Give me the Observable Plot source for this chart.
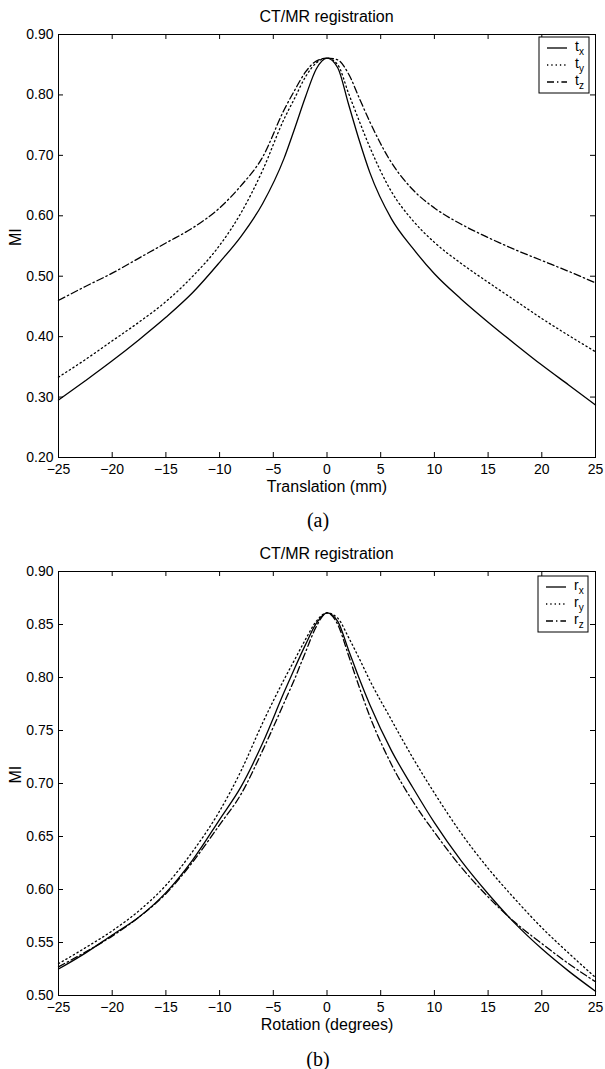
<!DOCTYPE html>
<html>
<head>
<meta charset="utf-8">
<script src="https://cdn.jsdelivr.net/npm/d3@7"></script>
<script src="https://cdn.jsdelivr.net/npm/@observablehq/plot@0.6"></script>
<style>
  body { margin: 0; background: #fff; width: 605px; font-family: "Liberation Sans", Arial, Helvetica, sans-serif; color: #000; }
  .title { height: 33px; line-height: 33px; font-size: 16px; text-align: center; padding-left: 58px; width: 537px; white-space: nowrap; }
  .caption { font-family: "Liberation Serif", "Times New Roman", serif; font-size: 20px; text-align: center; padding-left: 31px; width: 574px; }
  .wrap { position: relative; width: 605px; }
  .wrap svg { display: block; }
  .legend { position: absolute; }
</style>
</head>
<body>
<div class="title" id="title1"></div>
<div class="wrap" id="chart1"></div>
<div class="caption" id="cap1" style="height:46px;line-height:46px;"></div>
<div class="title" id="title2" style="height:22px;line-height:22px;"></div>
<div class="wrap" id="chart2"></div>
<div class="caption" id="cap2" style="height:48px;line-height:48px;"></div>
<script>
// ---------- data ----------
const chartTitle = "CT/MR registration";
const xs = [-25, -22.5, -20, -17.5, -15, -12.5, -10, -8, -6, -4, -3, -2, -1, 0, 1, 2, 3, 4, 6, 8, 10, 12.5, 15, 17.5, 20, 22.5, 25];
const xTicks = [-25, -20, -15, -10, -5, 0, 5, 10, 15, 20, 25];

// (a) translation
const tx = [0.295, 0.327, 0.360, 0.395, 0.432, 0.473, 0.523, 0.566, 0.620, 0.695, 0.745, 0.797, 0.843, 0.861, 0.845, 0.785, 0.725, 0.671, 0.595, 0.546, 0.504, 0.462, 0.424, 0.388, 0.353, 0.320, 0.287];
const ty = [0.333, 0.362, 0.393, 0.424, 0.458, 0.500, 0.551, 0.605, 0.675, 0.760, 0.795, 0.830, 0.853, 0.861, 0.850, 0.803, 0.757, 0.713, 0.640, 0.592, 0.556, 0.521, 0.490, 0.460, 0.430, 0.402, 0.375];
const tz = [0.460, 0.483, 0.505, 0.530, 0.555, 0.580, 0.613, 0.650, 0.697, 0.775, 0.808, 0.838, 0.856, 0.861, 0.858, 0.835, 0.795, 0.755, 0.688, 0.643, 0.613, 0.586, 0.564, 0.544, 0.526, 0.508, 0.489];
const yTicksA = [0.20, 0.30, 0.40, 0.50, 0.60, 0.70, 0.80, 0.90];

// (b) rotation
const rx = [0.525, 0.540, 0.557, 0.574, 0.597, 0.628, 0.666, 0.697, 0.738, 0.786, 0.809, 0.831, 0.851, 0.861, 0.853, 0.826, 0.799, 0.774, 0.731, 0.696, 0.663, 0.627, 0.596, 0.568, 0.544, 0.523, 0.504];
const ry = [0.530, 0.545, 0.561, 0.580, 0.604, 0.636, 0.674, 0.712, 0.757, 0.798, 0.817, 0.836, 0.853, 0.861, 0.856, 0.838, 0.818, 0.797, 0.760, 0.724, 0.691, 0.653, 0.620, 0.591, 0.564, 0.540, 0.517];
const rz = [0.527, 0.541, 0.556, 0.574, 0.596, 0.626, 0.661, 0.690, 0.731, 0.776, 0.799, 0.824, 0.848, 0.861, 0.850, 0.821, 0.791, 0.763, 0.718, 0.683, 0.654, 0.621, 0.593, 0.569, 0.549, 0.530, 0.513];
const yTicksB = [0.50, 0.55, 0.60, 0.65, 0.70, 0.75, 0.80, 0.85, 0.90];

const lineStyles = { solid: null, dotted: "1.3,3", dashdot: "7,3,1.4,3" };

// ---------- drawing ----------
const W = 605, ML = 58, MR = 10;
function fmtX(d) { return d < 0 ? "\u2212" + (-d) : String(d); }

function drawChart(el, { marginTop, innerH, yDomain, yTicks, xLabel, series, legendPos }) {
  const innerW = W - ML - MR;
  const marginBottom = 40;
  const marks = [];
  for (const s of series) {
    marks.push(Plot.line(xs, {
      x: xs, y: s.values, curve: "monotone-x", stroke: "black",
      strokeWidth: 1.3, strokeDasharray: lineStyles[s.style] || undefined
    }));
  }
  marks.push(
    // inward ticks (bottom, top, left, right)
    Plot.ruleX(xTicks, { x: d => d, insetTop: innerH - 5, stroke: "black", strokeWidth: 1 }),
    Plot.ruleX(xTicks, { x: d => d, insetBottom: innerH - 5, stroke: "black", strokeWidth: 1 }),
    Plot.ruleY(yTicks, { y: d => d, insetRight: innerW - 5, stroke: "black", strokeWidth: 1 }),
    Plot.ruleY(yTicks, { y: d => d, insetLeft: innerW - 5, stroke: "black", strokeWidth: 1 }),
    Plot.frame({ stroke: "black", strokeWidth: 1 }),
    Plot.axisX(xTicks, { tickSize: 0, tickPadding: 7, fontSize: 14, tickFormat: fmtX, label: null }),
    Plot.axisY(yTicks, { tickSize: 0, tickPadding: 5, fontSize: 14, tickFormat: d => d.toFixed(2), label: null }),
    Plot.text([xLabel], { frameAnchor: "bottom", lineAnchor: "middle", dy: 29, fontSize: 16, text: d => d }),
    Plot.text(["MI"], { frameAnchor: "left", lineAnchor: "middle", dx: -43, rotate: -90, fontSize: 16, text: d => d })
  );
  const svg = Plot.plot({
    width: W,
    height: marginTop + innerH + marginBottom,
    marginTop, marginBottom, marginLeft: ML, marginRight: MR,
    x: { domain: [-25, 25], axis: null },
    y: { domain: yDomain, axis: null },
    style: { fontFamily: "'Liberation Sans', Arial, Helvetica, sans-serif", fontSize: "14px", background: "white", overflow: "visible", color: "black" },
    marks
  });
  el.appendChild(svg);

  // legend overlay (inside the axes box, top right)
  const lw = 51, lh = 57;
  const leg = d3.select(el).append("svg")
    .attr("class", "legend")
    .attr("width", lw + 2).attr("height", lh + 2)
    .style("left", (legendPos.left - 1) + "px").style("top", (legendPos.top - 1) + "px");
  leg.append("rect").attr("x", 1).attr("y", 1).attr("width", lw - 1).attr("height", lh - 1)
    .attr("fill", "white").attr("stroke", "black").attr("stroke-width", 1);
  series.forEach((s, i) => {
    const cy = 1 + 11 + i * 17;
    leg.append("line").attr("x1", 9).attr("x2", 29).attr("y1", cy).attr("y2", cy)
      .attr("stroke", "black").attr("stroke-width", 1.3)
      .attr("stroke-dasharray", lineStyles[s.style] || null);
    const t = leg.append("text").attr("x", 37).attr("y", cy + 3)
      .attr("font-family", "'Liberation Sans', Arial, sans-serif").attr("font-size", 14);
    t.append("tspan").text(s.name);
    t.append("tspan").attr("dy", 4).attr("font-size", 10).text(s.sub);
  });
}

document.getElementById("title1").textContent = chartTitle;
document.getElementById("title2").textContent = chartTitle;
document.getElementById("cap1").textContent = "(a)";
document.getElementById("cap2").textContent = "(b)";

drawChart(document.getElementById("chart1"), {
  marginTop: 1, innerH: 423, yDomain: [0.2, 0.9], yTicks: yTicksA,
  xLabel: "Translation (mm)",
  series: [
    { name: "t", sub: "x", values: tx, style: "solid" },
    { name: "t", sub: "y", values: ty, style: "dotted" },
    { name: "t", sub: "z", values: tz, style: "dashdot" }
  ],
  legendPos: { left: 539, top: 4 }
});
drawChart(document.getElementById("chart2"), {
  marginTop: 6, innerH: 424, yDomain: [0.5, 0.9], yTicks: yTicksB,
  xLabel: "Rotation (degrees)",
  series: [
    { name: "r", sub: "x", values: rx, style: "solid" },
    { name: "r", sub: "y", values: ry, style: "dotted" },
    { name: "r", sub: "z", values: rz, style: "dashdot" }
  ],
  legendPos: { left: 538, top: 11 }
});
</script>
</body>
</html>
